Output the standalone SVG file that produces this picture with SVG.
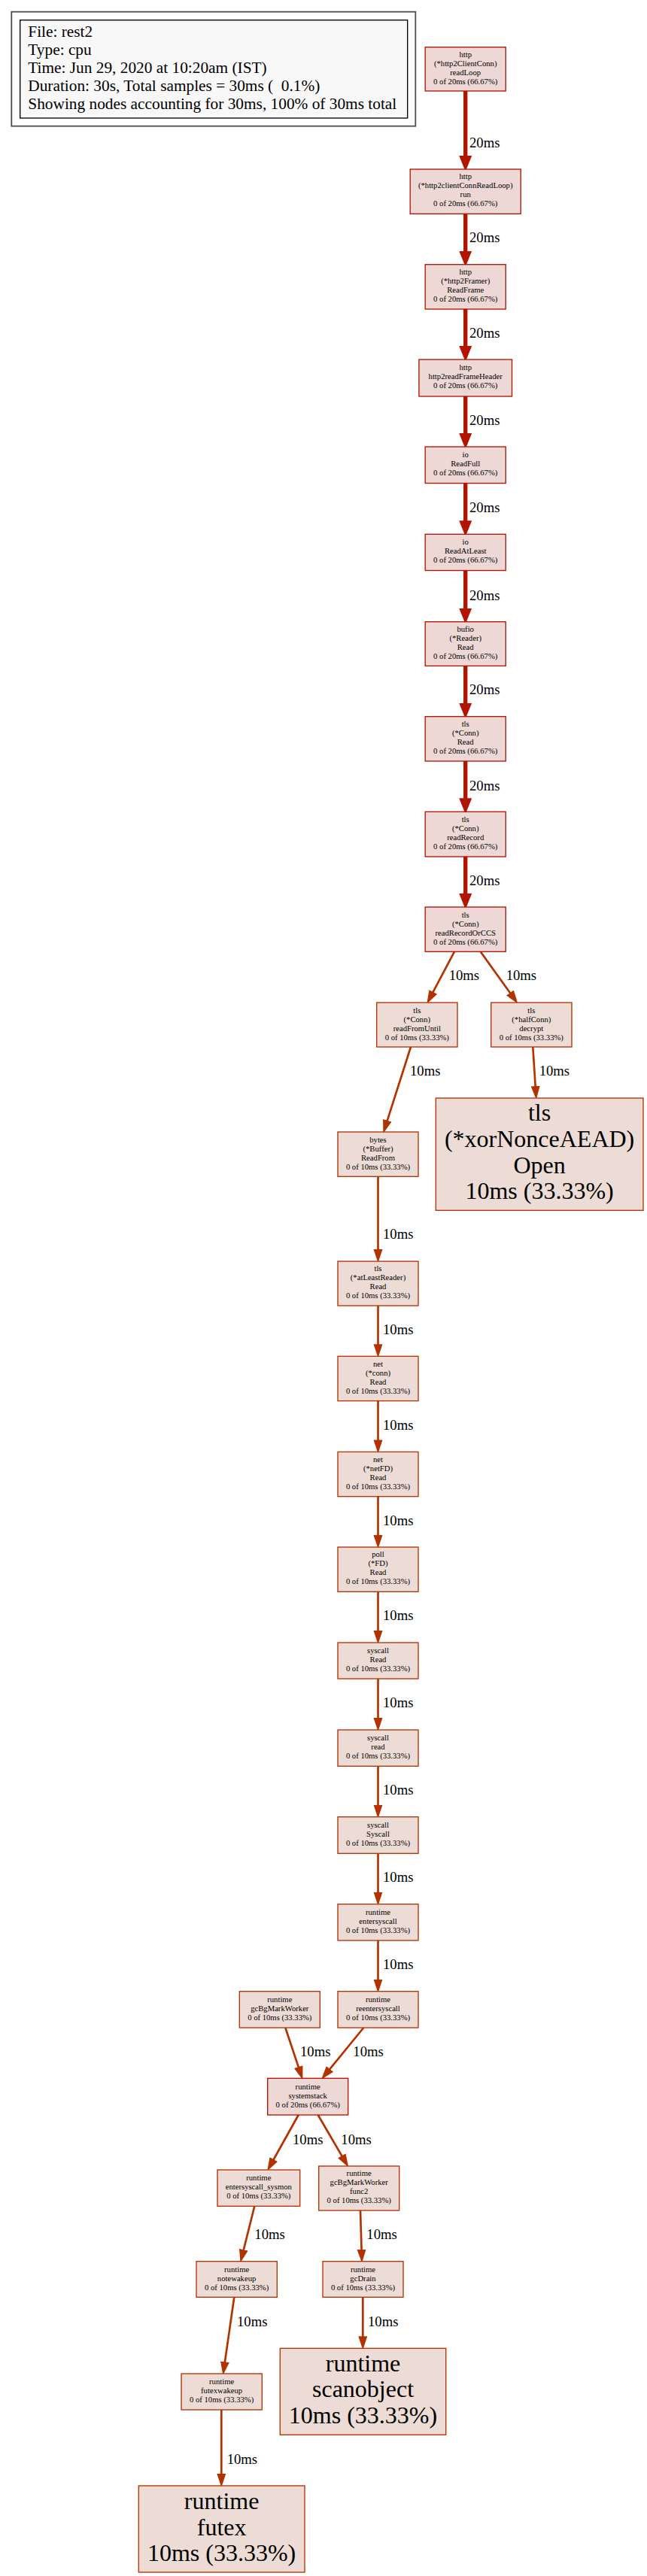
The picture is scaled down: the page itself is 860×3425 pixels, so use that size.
<svg xmlns="http://www.w3.org/2000/svg" width="860" height="3425" viewBox="0 0 860 3425">
<style>
.t{font-family:"Liberation Serif","Times New Roman",serif;font-size:10.67px;text-anchor:middle;fill:#000}
.tb{font-family:"Liberation Serif","Times New Roman",serif;font-size:32px;text-anchor:middle;fill:#000}
.lg{font-family:"Liberation Serif","Times New Roman",serif;font-size:21.33px;fill:#000;white-space:pre}
.el{font-family:"Liberation Serif","Times New Roman",serif;font-size:18.67px;fill:#000}
.n20 rect{fill:#edd8d5;stroke:#b21400;stroke-width:1.33}
.n10 rect{fill:#eddcd5;stroke:#b23200;stroke-width:1.33}
.e20{stroke:#b21400;stroke-width:5.33;fill:none;marker-end:url(#a20)}
.e10{stroke:#b23200;stroke-width:2.67;fill:none;marker-end:url(#a10)}
</style>
<defs>
<marker id="a20" markerUnits="userSpaceOnUse" viewBox="0 -9 22 18" markerWidth="22" markerHeight="18" refX="8" refY="0" orient="auto"><path d="M0,-8.5 L21,0 L0,8.5 z" fill="#b21400"/></marker>
<marker id="a10" markerUnits="userSpaceOnUse" viewBox="0 -7 19 14" markerWidth="19" markerHeight="14" refX="8" refY="0" orient="auto"><path d="M0,-6 L18,0 L0,6 z" fill="#b23200"/></marker>
</defs>
<rect width="860" height="3425" fill="#fff"/>
<g id="legend">
<rect x="15.3" y="15.7" width="537" height="152" fill="#fff" stroke="#4d4d4d" stroke-width="1.8"/>
<rect x="26.7" y="26.7" width="515" height="130.3" fill="#f8f8f8" stroke="#000" stroke-width="1.33"/>
<text class="lg" x="37.3" y="48.5">File: rest2</text>
<text class="lg" x="37.3" y="72.5">Type: cpu</text>
<text class="lg" x="37.3" y="96.5">Time: Jun 29, 2020 at 10:20am (IST)</text>
<text class="lg" x="37.3" y="120.5">Duration: 30s, Total samples = 30ms (  0.1%)</text>
<text class="lg" x="37.3" y="144.5">Showing nodes accounting for 30ms, 100% of 30ms total</text>
</g>
<g id="edges">
<line class="e20" x1="618.7" y1="121" x2="618.7" y2="215"/><text class="el" x="624" y="196">20ms</text>
<line class="e20" x1="618.7" y1="284.3" x2="618.7" y2="341.7"/><text class="el" x="624" y="322">20ms</text>
<line class="e20" x1="618.7" y1="411" x2="618.7" y2="468"/><text class="el" x="624" y="449.3">20ms</text>
<line class="e20" x1="618.7" y1="527" x2="618.7" y2="584"/><text class="el" x="624" y="565">20ms</text>
<line class="e20" x1="618.7" y1="642.5" x2="618.7" y2="700.3"/><text class="el" x="624" y="681">20ms</text>
<line class="e20" x1="618.7" y1="758.5" x2="618.7" y2="816.7"/><text class="el" x="624" y="797.5">20ms</text>
<line class="e20" x1="618.7" y1="885.4" x2="618.7" y2="942.7"/><text class="el" x="624" y="923.3">20ms</text>
<line class="e20" x1="618.7" y1="1012" x2="618.7" y2="1069.3"/><text class="el" x="624" y="1050.5">20ms</text>
<line class="e20" x1="618.7" y1="1139" x2="618.7" y2="1196"/><text class="el" x="624" y="1177.3">20ms</text>
<line class="e10" x1="604" y1="1265.3" x2="572" y2="1325.9"/><text class="el" x="596.7" y="1303.3">10ms</text>
<line class="e10" x1="638.7" y1="1265.3" x2="682.6" y2="1326.5"/><text class="el" x="672.7" y="1303.3">10ms</text>
<line class="e10" x1="546" y1="1392" x2="512.4" y2="1497.4"/><text class="el" x="545" y="1430">10ms</text>
<line class="e10" x1="708.3" y1="1392" x2="712.2" y2="1452"/><text class="el" x="716.7" y="1430">10ms</text>
<line class="e10" x1="502.5" y1="1564.3" x2="502.5" y2="1669"/><text class="el" x="509" y="1646.7">10ms</text>
<line class="e10" x1="502.5" y1="1736" x2="502.5" y2="1795.3"/><text class="el" x="509" y="1774">10ms</text>
<line class="e10" x1="502.5" y1="1862.6" x2="502.5" y2="1922.4"/><text class="el" x="509" y="1901">10ms</text>
<line class="e10" x1="502.5" y1="1989.7" x2="502.5" y2="2049"/><text class="el" x="509" y="2027.5">10ms</text>
<line class="e10" x1="502.5" y1="2116.3" x2="502.5" y2="2176"/><text class="el" x="509" y="2154">10ms</text>
<line class="e10" x1="502.5" y1="2232" x2="502.5" y2="2292"/><text class="el" x="509" y="2270">10ms</text>
<line class="e10" x1="502.5" y1="2348.3" x2="502.5" y2="2407.7"/><text class="el" x="509" y="2386">10ms</text>
<line class="e10" x1="502.5" y1="2464.3" x2="502.5" y2="2523.7"/><text class="el" x="509" y="2502">10ms</text>
<line class="e10" x1="502.5" y1="2580" x2="502.5" y2="2639.7"/><text class="el" x="509" y="2618.3">10ms</text>
<line class="e10" x1="379.3" y1="2696" x2="399.2" y2="2755.7"/><text class="el" x="399" y="2734.3">10ms</text>
<line class="e10" x1="483.3" y1="2696" x2="433.4" y2="2757.1"/><text class="el" x="469.3" y="2734.3">10ms</text>
<line class="e10" x1="396.7" y1="2812" x2="359.9" y2="2878"/><text class="el" x="389" y="2850.7">10ms</text>
<line class="e10" x1="422.7" y1="2812" x2="458.3" y2="2873.1"/><text class="el" x="453.3" y="2850.7">10ms</text>
<line class="e10" x1="338.3" y1="2933.3" x2="321.9" y2="2998.9"/><text class="el" x="338.3" y="2977.3">10ms</text>
<line class="e10" x1="479" y1="2939" x2="480.8" y2="2998.7"/><text class="el" x="487.3" y="2977.3">10ms</text>
<line class="e10" x1="311.3" y1="3054.3" x2="297.8" y2="3148.1"/><text class="el" x="315" y="3093.3">10ms</text>
<line class="e10" x1="482.3" y1="3054.3" x2="482.3" y2="3114.3"/><text class="el" x="489" y="3093.3">10ms</text>
<line class="e10" x1="294.3" y1="3204" x2="294.3" y2="3297"/><text class="el" x="301.7" y="3275.7">10ms</text>
</g>
<g id="n1" class="n20"><rect x="565.2" y="62.7" width="107" height="58.3"/><text class="t" x="618.7" y="76">http</text><text class="t" x="618.7" y="88">(*http2ClientConn)</text><text class="t" x="618.7" y="100">readLoop</text><text class="t" x="618.7" y="112">0 of 20ms (66.67%)</text></g>
<g id="n2" class="n20"><rect x="545.2" y="225" width="147" height="59.3"/><text class="t" x="618.7" y="238.3">http</text><text class="t" x="618.7" y="250.3">(*http2clientConnReadLoop)</text><text class="t" x="618.7" y="262.3">run</text><text class="t" x="618.7" y="274.3">0 of 20ms (66.67%)</text></g>
<g id="n3" class="n20"><rect x="565.2" y="351.7" width="107" height="59.3"/><text class="t" x="618.7" y="365">http</text><text class="t" x="618.7" y="377">(*http2Framer)</text><text class="t" x="618.7" y="389">ReadFrame</text><text class="t" x="618.7" y="401">0 of 20ms (66.67%)</text></g>
<g id="n4" class="n20"><rect x="556.9" y="478" width="123.6" height="49"/><text class="t" x="618.7" y="492">http</text><text class="t" x="618.7" y="504">http2readFrameHeader</text><text class="t" x="618.7" y="516">0 of 20ms (66.67%)</text></g>
<g id="n5" class="n20"><rect x="565.2" y="594" width="107" height="48.5"/><text class="t" x="618.7" y="608">io</text><text class="t" x="618.7" y="620">ReadFull</text><text class="t" x="618.7" y="632">0 of 20ms (66.67%)</text></g>
<g id="n6" class="n20"><rect x="565.2" y="710.3" width="107" height="48.2"/><text class="t" x="618.7" y="724.3">io</text><text class="t" x="618.7" y="736.3">ReadAtLeast</text><text class="t" x="618.7" y="748.3">0 of 20ms (66.67%)</text></g>
<g id="n7" class="n20"><rect x="565.2" y="826.7" width="107" height="58.7"/><text class="t" x="618.7" y="840.3">bufio</text><text class="t" x="618.7" y="852.3">(*Reader)</text><text class="t" x="618.7" y="864.3">Read</text><text class="t" x="618.7" y="876.3">0 of 20ms (66.67%)</text></g>
<g id="n8" class="n20"><rect x="565.2" y="952.7" width="107" height="59.3"/><text class="t" x="618.7" y="966">tls</text><text class="t" x="618.7" y="978">(*Conn)</text><text class="t" x="618.7" y="990">Read</text><text class="t" x="618.7" y="1002">0 of 20ms (66.67%)</text></g>
<g id="n9" class="n20"><rect x="565.2" y="1079.3" width="107" height="59.7"/><text class="t" x="618.7" y="1093">tls</text><text class="t" x="618.7" y="1105">(*Conn)</text><text class="t" x="618.7" y="1117">readRecord</text><text class="t" x="618.7" y="1129">0 of 20ms (66.67%)</text></g>
<g id="n10" class="n20"><rect x="565.2" y="1206" width="107" height="59.3"/><text class="t" x="618.7" y="1219.5">tls</text><text class="t" x="618.7" y="1231.5">(*Conn)</text><text class="t" x="618.7" y="1243.5">readRecordOrCCS</text><text class="t" x="618.7" y="1255.5">0 of 20ms (66.67%)</text></g>
<g id="n11" class="n10"><rect x="500.7" y="1333" width="107.3" height="59"/><text class="t" x="554.3" y="1346.5">tls</text><text class="t" x="554.3" y="1358.5">(*Conn)</text><text class="t" x="554.3" y="1370.5">readFromUntil</text><text class="t" x="554.3" y="1382.5">0 of 10ms (33.33%)</text></g>
<g id="n12" class="n10"><rect x="652.7" y="1333" width="107.3" height="59"/><text class="t" x="706.3" y="1346.5">tls</text><text class="t" x="706.3" y="1358.5">(*halfConn)</text><text class="t" x="706.3" y="1370.5">decrypt</text><text class="t" x="706.3" y="1382.5">0 of 10ms (33.33%)</text></g>
<g id="n13" class="n10"><rect x="449" y="1505" width="107" height="59.3"/><text class="t" x="502.5" y="1518.5">bytes</text><text class="t" x="502.5" y="1530.5">(*Buffer)</text><text class="t" x="502.5" y="1542.5">ReadFrom</text><text class="t" x="502.5" y="1554.5">0 of 10ms (33.33%)</text></g>
<g id="n14" class="n10"><rect x="579.3" y="1460" width="275.7" height="149.3"/><text class="tb" x="717.1" y="1490">tls</text><text class="tb" x="717.1" y="1525">(*xorNonceAEAD)</text><text class="tb" x="717.1" y="1559.5">Open</text><text class="tb" x="717.1" y="1594.3">10ms (33.33%)</text></g>
<g id="n15" class="n10"><rect x="449" y="1677" width="107" height="59"/><text class="t" x="502.5" y="1690.3">tls</text><text class="t" x="502.5" y="1702.3">(*atLeastReader)</text><text class="t" x="502.5" y="1714.3">Read</text><text class="t" x="502.5" y="1726.3">0 of 10ms (33.33%)</text></g>
<g id="n16" class="n10"><rect x="449" y="1803.3" width="107" height="59.3"/><text class="t" x="502.5" y="1816.7">net</text><text class="t" x="502.5" y="1828.7">(*conn)</text><text class="t" x="502.5" y="1840.7">Read</text><text class="t" x="502.5" y="1852.7">0 of 10ms (33.33%)</text></g>
<g id="n17" class="n10"><rect x="449" y="1930.4" width="107" height="59.3"/><text class="t" x="502.5" y="1943.8">net</text><text class="t" x="502.5" y="1955.8">(*netFD)</text><text class="t" x="502.5" y="1967.8">Read</text><text class="t" x="502.5" y="1979.8">0 of 10ms (33.33%)</text></g>
<g id="n18" class="n10"><rect x="449" y="2057" width="107" height="59.3"/><text class="t" x="502.5" y="2070.4">poll</text><text class="t" x="502.5" y="2082.4">(*FD)</text><text class="t" x="502.5" y="2094.4">Read</text><text class="t" x="502.5" y="2106.4">0 of 10ms (33.33%)</text></g>
<g id="n19" class="n10"><rect x="449" y="2184" width="107" height="48"/><text class="t" x="502.5" y="2198.2">syscall</text><text class="t" x="502.5" y="2210.2">Read</text><text class="t" x="502.5" y="2222.2">0 of 10ms (33.33%)</text></g>
<g id="n20" class="n10"><rect x="449" y="2300" width="107" height="48.3"/><text class="t" x="502.5" y="2314.2">syscall</text><text class="t" x="502.5" y="2326.2">read</text><text class="t" x="502.5" y="2338.2">0 of 10ms (33.33%)</text></g>
<g id="n21" class="n10"><rect x="449" y="2415.7" width="107" height="48.6"/><text class="t" x="502.5" y="2430">syscall</text><text class="t" x="502.5" y="2442">Syscall</text><text class="t" x="502.5" y="2454">0 of 10ms (33.33%)</text></g>
<g id="n22" class="n10"><rect x="449" y="2531.7" width="107" height="48.3"/><text class="t" x="502.5" y="2546">runtime</text><text class="t" x="502.5" y="2558">entersyscall</text><text class="t" x="502.5" y="2570">0 of 10ms (33.33%)</text></g>
<g id="n23" class="n10"><rect x="449" y="2647.7" width="107" height="48.3"/><text class="t" x="502.5" y="2662">runtime</text><text class="t" x="502.5" y="2674">reentersyscall</text><text class="t" x="502.5" y="2686">0 of 10ms (33.33%)</text></g>
<g id="n24" class="n10"><rect x="318.3" y="2647.7" width="107" height="48.3"/><text class="t" x="371.8" y="2662">runtime</text><text class="t" x="371.8" y="2674">gcBgMarkWorker</text><text class="t" x="371.8" y="2686">0 of 10ms (33.33%)</text></g>
<g id="n25" class="n20"><rect x="355.7" y="2763.3" width="107" height="48.7"/><text class="t" x="409.2" y="2777.7">runtime</text><text class="t" x="409.2" y="2789.7">systemstack</text><text class="t" x="409.2" y="2801.7">0 of 20ms (66.67%)</text></g>
<g id="n26" class="n10"><rect x="289" y="2885" width="109.7" height="48.3"/><text class="t" x="343.8" y="2899.3">runtime</text><text class="t" x="343.8" y="2911.3">entersyscall_sysmon</text><text class="t" x="343.8" y="2923.3">0 of 10ms (33.33%)</text></g>
<g id="n27" class="n10"><rect x="423.7" y="2880" width="107" height="59"/><text class="t" x="477.2" y="2893.3">runtime</text><text class="t" x="477.2" y="2905.3">gcBgMarkWorker</text><text class="t" x="477.2" y="2917.3">func2</text><text class="t" x="477.2" y="2929.3">0 of 10ms (33.33%)</text></g>
<g id="n28" class="n10"><rect x="261" y="3006.7" width="107.3" height="47.6"/><text class="t" x="314.6" y="3020.6">runtime</text><text class="t" x="314.6" y="3032.6">notewakeup</text><text class="t" x="314.6" y="3044.6">0 of 10ms (33.33%)</text></g>
<g id="n29" class="n10"><rect x="429" y="3006.7" width="107" height="47.6"/><text class="t" x="482.5" y="3020.6">runtime</text><text class="t" x="482.5" y="3032.6">gcDrain</text><text class="t" x="482.5" y="3044.6">0 of 10ms (33.33%)</text></g>
<g id="n30" class="n10"><rect x="241" y="3156" width="107.3" height="48"/><text class="t" x="294.6" y="3170">runtime</text><text class="t" x="294.6" y="3182">futexwakeup</text><text class="t" x="294.6" y="3194">0 of 10ms (33.33%)</text></g>
<g id="n31" class="n10"><rect x="372.3" y="3122.3" width="220.4" height="115"/><text class="tb" x="482.5" y="3153.3">runtime</text><text class="tb" x="482.5" y="3187">scanobject</text><text class="tb" x="482.5" y="3221.7">10ms (33.33%)</text></g>
<g id="n32" class="n10"><rect x="184.3" y="3305" width="220.7" height="115"/><text class="tb" x="294.6" y="3336">runtime</text><text class="tb" x="294.6" y="3370.5">futex</text><text class="tb" x="294.6" y="3405">10ms (33.33%)</text></g>
</svg>
